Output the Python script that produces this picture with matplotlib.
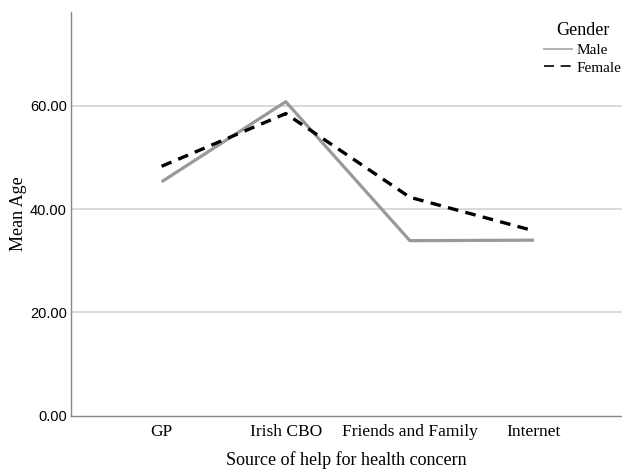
import matplotlib
matplotlib.use("Agg")
from matplotlib import pyplot as plt
from matplotlib.lines import Line2D

# Data
categories = ["GP", "Irish CBO", "Friends and Family", "Internet"]
male = [45.3, 60.8, 33.9, 34.0]
female = [48.3, 58.5, 42.3, 35.8]
yticks = [0, 20, 40, 60]

serif = "Liberation Serif"
sans = "Liberation Sans"

fig = plt.figure(figsize=(6.22, 4.72), dpi=100)
ax = fig.add_axes([0.114, 0.119, 0.886, 0.856])

x = list(range(len(categories)))
ax.plot(x, male, color="#999999", linewidth=2.3, solid_capstyle="butt", zorder=3)
ax.plot(x, female, color="black", linewidth=2.4, linestyle=(0, (3.2, 2.2)), zorder=4)

# Axes styling
ax.set_xlim(-0.731, 3.709)
ax.set_ylim(0, 78.2)
ax.set_yticks(yticks)
ax.set_yticklabels(["%.2f" % v for v in yticks], fontfamily=sans, fontsize=10.5)
ax.set_xticks(x)
ax.set_xticklabels(categories, fontfamily=serif, fontsize=12.5)
ax.tick_params(axis="x", length=0, pad=6)
ax.tick_params(axis="y", length=0, pad=3)
for v in yticks[1:]:
    ax.axhline(v, color="#d0d0d0", linewidth=1.1, zorder=1)
for s in ["top", "right"]:
    ax.spines[s].set_visible(False)
for s in ["left", "bottom"]:
    ax.spines[s].set_color("#888888")
    ax.spines[s].set_linewidth(1.0)

ax.set_xlabel("Source of help for health concern", fontfamily=serif, fontsize=13, labelpad=8)
ax.set_ylabel("Mean Age", fontfamily=serif, fontsize=13, labelpad=2)

# Legend
handles = [Line2D([], [], color="#b0b0b0", linewidth=1.4),
           Line2D([], [], color="black", linewidth=1.2, linestyle=(0, (6, 4)))]
leg = ax.legend(handles, ["Male", "Female"], title="Gender", loc="upper right",
                bbox_to_anchor=(1.018, 1.0), frameon=False,
                prop={"family": serif, "size": 11}, handlelength=1.8,
                handletextpad=0.3, labelspacing=0.25, borderpad=0.2)
leg.get_title().set_fontfamily(serif)
leg.get_title().set_fontsize(13)

fig.savefig("out.png", dpi=100)
